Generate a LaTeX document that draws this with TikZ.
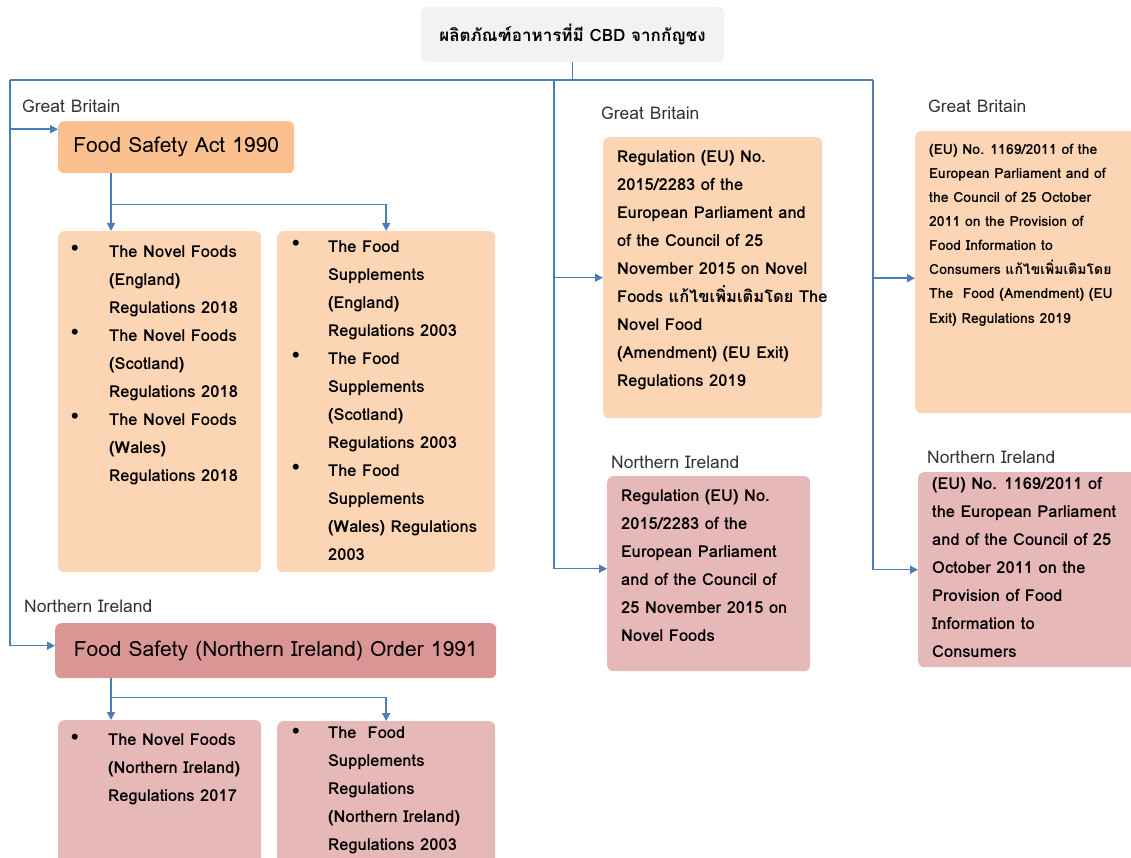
\documentclass[tikz,border=0pt]{standalone}
\usepackage{fontspec}
\setmainfont[Script=Thai]{Loma}
\usepackage{tikz}
\usetikzlibrary{arrows.meta, positioning}

\definecolor{linkblue}{HTML}{4A7EBB}
\definecolor{titlegray}{HTML}{F2F2F2}
\definecolor{gbdark}{HTML}{FAC090}
\definecolor{gblight}{HTML}{FCD5B5}
\definecolor{nidark}{HTML}{D99694}
\definecolor{nilight}{HTML}{E6B9B8}

\begin{document}
\begin{tikzpicture}[
    x=1pt, y=-1pt,
    box/.style    = {rectangle, rounded corners=6pt, anchor=north west,
                     inner sep=0pt},
    title/.style  = {box, anchor=center, fill=titlegray,
                     font=\bfseries\fontsize{17}{20}\selectfont},
    act/.style    = {box, font=\fontsize{21}{24}\selectfont},
    gbbox/.style  = {box, fill=gblight},
    nibox/.style  = {box, fill=nilight},
    region/.style = {anchor=west, inner sep=0pt, text=black!80,
                     font=\fontsize{17.5}{20}\selectfont},
    body/.style   = {anchor=north west, inner sep=0pt,
                     font=\bfseries\fontsize{16.5}{28}\selectfont},
    small/.style  = {body, font=\bfseries\fontsize{14}{24}\selectfont},
    conn/.style   = {draw=linkblue, line width=1.5pt},
    arr/.style    = {conn, -{Triangle[length=8pt, width=8pt]}}
]
\useasboundingbox (0,0) rectangle (1131,858);
\clip (0,0) rectangle (1131,858);

%% Title
\node[title, minimum width=303pt, minimum height=55pt] (title) at (572.5,34.5)
    {ผลิตภัณฑ์อาหารที่มี CBD จากกัญชง};

%% Left column - acts and their regulations
\node[act, fill=gbdark, minimum width=236pt, minimum height=52pt] (fsa) at (58,121)
    {Food Safety Act 1990};
\node[gbbox, minimum width=203pt, minimum height=341pt] (novA) at (58,231) {};
\node[gbbox, minimum width=218pt, minimum height=341pt] (supB) at (277,231) {};
\node[act, fill=nidark, minimum width=441pt, minimum height=55pt] (nio) at (55,623)
    {Food Safety (Northern Ireland) Order 1991};
\node[nibox, minimum width=203pt, minimum height=160pt] (novC) at (58,720) {};
\node[nibox, minimum width=218pt, minimum height=160pt] (supD) at (277,721) {};

%% Middle and right columns - EU regulations
\node[gbbox, minimum width=219pt, minimum height=281pt] (eugb) at (603,137) {};
\node[nibox, minimum width=203pt, minimum height=195pt] (euni) at (607,476) {};
\node[gbbox, minimum width=240pt, minimum height=282pt] (figb) at (915,131) {};
\node[nibox, minimum width=240pt, minimum height=195pt] (fini) at (918,472) {};

%% Region labels
\node[region] (gbL) at (22,106) {Great Britain};
\node[region] (niL) at (24,606) {Northern Ireland};
\node[region] (gbM) at (601,113) {Great Britain};
\node[region] (niM) at (611,462) {Northern Ireland};
\node[region] (gbR) at (928,106) {Great Britain};
\node[region] (niR) at (927,457) {Northern Ireland};

%% Box texts
\node[body] (novAtxt) at ([xshift=13pt, yshift=-7pt]novA.north west)
    {\begin{tabular}{@{}p{38pt}@{}l@{}}
     \raisebox{4pt}{\textbullet} & The Novel Foods\\ & (England)\\ & Regulations 2018\\
     \raisebox{4pt}{\textbullet} & The Novel Foods\\ & (Scotland)\\ & Regulations 2018\\
     \raisebox{4pt}{\textbullet} & The Novel Foods\\ & (Wales)\\ & Regulations 2018
     \end{tabular}};
\node[body] (supBtxt) at ([xshift=15pt, yshift=-2pt]supB.north west)
    {\begin{tabular}{@{}p{36pt}@{}l@{}}
     \raisebox{4pt}{\textbullet} & The Food\\ & Supplements\\ & (England)\\ & Regulations 2003\\
     \raisebox{4pt}{\textbullet} & The Food\\ & Supplements\\ & (Scotland)\\ & Regulations 2003\\
     \raisebox{4pt}{\textbullet} & The Food\\ & Supplements\\ & (Wales) Regulations\\ & 2003
     \end{tabular}};
\node[body] (novCtxt) at ([xshift=13pt, yshift=-6pt]novC.north west)
    {\begin{tabular}{@{}p{37pt}@{}l@{}}
     \raisebox{3pt}{\textbullet} & The Novel Foods\\ & (Northern Ireland)\\ & Regulations 2017
     \end{tabular}};
\node[body] (supDtxt) at ([xshift=15pt, yshift=2pt]supD.north west)
    {\begin{tabular}{@{}p{36pt}@{}l@{}}
     \raisebox{2pt}{\textbullet} & The\ \ Food\\ & Supplements\\ & Regulations\\
       & (Northern Ireland)\\ & Regulations 2003
     \end{tabular}};
\node[body] (eugbtxt) at ([xshift=14pt, yshift=-6pt]eugb.north west)
    {\begin{tabular}{@{}l@{}}
     Regulation (EU) No.\\ 2015/2283 of the\\ European Parliament and\\
     of the Council of 25\\ November 2015 on Novel\\ Foods แก้ไขเพิ่มเติมโดย The\\
     Novel Food\\ (Amendment) (EU Exit)\\ Regulations 2019
     \end{tabular}};
\node[body] (eunitxt) at ([xshift=14pt, yshift=-6pt]euni.north west)
    {\begin{tabular}{@{}l@{}}
     Regulation (EU) No.\\ 2015/2283 of the\\ European Parliament\\
     and of the Council of\\ 25 November 2015 on\\ Novel Foods
     \end{tabular}};
\node[small] (figbtxt) at ([xshift=14pt, yshift=-7pt]figb.north west)
    {\begin{tabular}{@{}l@{}}
     (EU) No. 1169/2011 of the\\ European Parliament and of\\
     the Council of 25 October\\ 2011 on the Provision of\\ Food Information to\\
     Consumers แก้ไขเพิ่มเติมโดย\\ The\ \ Food (Amendment) (EU\\ Exit) Regulations 2019
     \end{tabular}};
\node[body] (finitxt) at ([xshift=14pt, yshift=2pt]fini.north west)
    {\begin{tabular}{@{}l@{}}
     (EU) No. 1169/2011 of\\ the European Parliament\\ and of the Council of 25\\
     October 2011 on the\\ Provision of Food\\ Information to\\ Consumers
     \end{tabular}};

%% Main bus from the title
\coordinate (busL) at (10,80);
\coordinate (busM) at (554,80);
\coordinate (busR) at (873,80);
\draw[conn] (title.south) -- (title.south |- busL);
\draw[conn] (busL) -- (busR);

%% Bus to the acts and EU regulations
\draw[arr] (busL) |- ([yshift=18pt]fsa.west);
\draw[arr] (busL) |- ([yshift=5pt]nio.west);
\draw[arr] (busM) |- (eugb.west);
\draw[arr] (busM) |- ([yshift=5pt]euni.west);
\draw[arr] (busR) |- ([yshift=-6pt]figb.west);
\draw[arr] (busR) |- (fini.west);

%% Acts to their regulations
\coordinate (fsaOut) at ([xshift=53pt]fsa.south west);
\draw[arr] (fsaOut) -- (fsaOut |- novA.north);
\draw[arr] (fsaOut) ++(0,31) -| (supB.north);
\coordinate (nioOut) at ([xshift=56pt]nio.south west);
\draw[arr] (nioOut) -- (nioOut |- novC.north);
\draw[arr] (nioOut) ++(0,19) -| (supD.north);

\end{tikzpicture}
\end{document}
